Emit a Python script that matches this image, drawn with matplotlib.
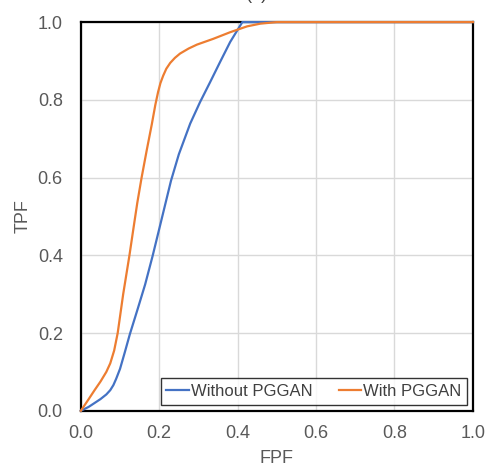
import matplotlib.pyplot as plt

plt.rcParams['font.family'] = ['Liberation Sans', 'DejaVu Sans']

# ROC curve points
fpf_without = [0, 0.02, 0.035, 0.05, 0.065, 0.075, 0.083, 0.09, 0.1, 0.112, 0.125,
               0.145, 0.164, 0.183, 0.2, 0.215, 0.23, 0.25, 0.279, 0.304, 0.33,
               0.355, 0.381, 0.412, 0.5, 0.6, 1.0]
tpf_without = [0, 0.01, 0.02, 0.03, 0.042, 0.053, 0.066, 0.082, 0.108, 0.15, 0.197,
               0.262, 0.325, 0.398, 0.468, 0.53, 0.592, 0.66, 0.739, 0.794, 0.846,
               0.897, 0.949, 1.0, 1.0, 1.0, 1.0]

fpf_with = [0, 0.02, 0.035, 0.05, 0.065, 0.075, 0.085, 0.094, 0.108, 0.124, 0.134,
            0.144, 0.155, 0.168, 0.181, 0.19, 0.197, 0.203, 0.21, 0.218, 0.228,
            0.24, 0.253, 0.275, 0.296, 0.338, 0.381, 0.424, 0.458, 0.5, 1.0]
tpf_with = [0, 0.03, 0.053, 0.075, 0.1, 0.122, 0.155, 0.2, 0.3, 0.4, 0.468,
            0.535, 0.6, 0.67, 0.737, 0.787, 0.82, 0.843, 0.862, 0.88, 0.895,
            0.908, 0.919, 0.932, 0.942, 0.957, 0.974, 0.989, 0.996, 1.0, 1.0]

ticks = [0.0, 0.2, 0.4, 0.6, 0.8, 1.0]
tick_labels = ["0.0", "0.2", "0.4", "0.6", "0.8", "1.0"]

fig = plt.figure(figsize=(4.87, 4.70), dpi=100)
ax = fig.add_axes([0.166, 0.126, 0.805, 0.827])

ax.plot(fpf_without, tpf_without, color="#4472C4", lw=1.6, label="Without PGGAN",
        zorder=3, clip_on=False, solid_joinstyle="round")
ax.plot(fpf_with, tpf_with, color="#ED7D31", lw=1.6, label="With PGGAN",
        zorder=3, clip_on=False, solid_joinstyle="round")

ax.set_xlim(0, 1)
ax.set_ylim(0, 1)
ax.set_xticks(ticks)
ax.set_yticks(ticks)
ax.set_xticklabels(tick_labels)
ax.set_yticklabels(tick_labels)
ax.tick_params(length=0, labelsize=13, labelcolor="#595959")
ax.tick_params(axis="x", pad=10)
ax.tick_params(axis="y", pad=13)
ax.grid(True, color="#d9d9d9", lw=1)
ax.set_axisbelow(True)
for s in ax.spines.values():
    s.set_color("black")
    s.set_linewidth(1.6)

ax.set_xlabel("FPF", fontsize=13, color="#595959", labelpad=6)
ax.set_ylabel("TPF", fontsize=13, color="#595959", labelpad=4)

# panel label, cut off at the top edge as in the source image
fig.text(0.528, 1.003, "(a)", fontsize=13, color="#404040", ha="center", va="baseline")

leg = ax.legend(loc="lower right", ncol=2, fontsize=12, frameon=True, fancybox=False,
                handlelength=1.35, handletextpad=0.1, columnspacing=1.6,
                borderpad=0.35, borderaxespad=0.35)
leg.get_frame().set_edgecolor("black")
leg.get_frame().set_linewidth(1.0)
leg.set_zorder(5)
for t in leg.get_texts():
    t.set_color("#404040")

fig.savefig("out.png", dpi=100)
